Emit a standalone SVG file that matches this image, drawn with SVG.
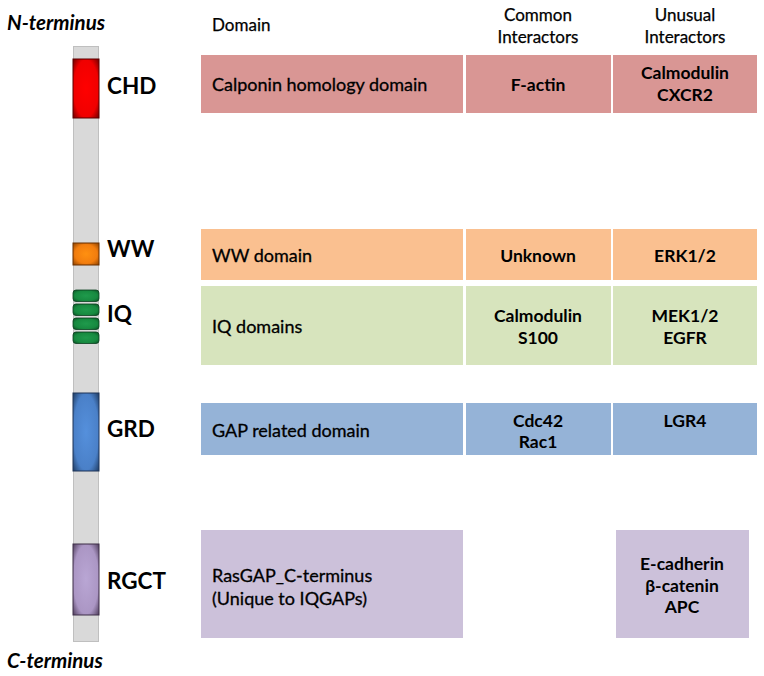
<svg xmlns="http://www.w3.org/2000/svg" width="764" height="676" viewBox="0 0 764 676">
<style>
text{font-family:Lato,"Open Sans","Liberation Sans",sans-serif;fill:#000}
.lbl{font-size:22.5px;font-weight:bold}
.term{font-size:20.5px;font-weight:bold;font-style:italic}
.hd{font-size:17px;stroke:#000;stroke-width:0.25}
.c1{font-size:18px;stroke:#000;stroke-width:0.3}
.cx{font-size:17.5px;font-weight:bold;text-anchor:middle}
.bar{fill:#d9d9d9;stroke:#bfbfbf;stroke-width:1}
</style>
<defs>
<radialGradient id="gRed" cx="0.5" cy="0.5" r="0.71"><stop offset="0" stop-color="#ff0000"/><stop offset="0.68" stop-color="#f00000"/><stop offset="1" stop-color="#6a0000"/></radialGradient>
<radialGradient id="gOr" cx="0.5" cy="0.5" r="0.71"><stop offset="0" stop-color="#ff9010"/><stop offset="0.6" stop-color="#f27d0e"/><stop offset="1" stop-color="#8a4000"/></radialGradient>
<radialGradient id="gGr" cx="0.5" cy="0.5" r="0.71"><stop offset="0" stop-color="#1f9a4c"/><stop offset="0.6" stop-color="#178a40"/><stop offset="1" stop-color="#0a4a22"/></radialGradient>
<radialGradient id="gBl" cx="0.5" cy="0.5" r="0.71"><stop offset="0" stop-color="#5590dc"/><stop offset="0.68" stop-color="#4a80c8"/><stop offset="1" stop-color="#1e3a60"/></radialGradient>
<radialGradient id="gPu" cx="0.5" cy="0.5" r="0.71"><stop offset="0" stop-color="#b9a6d4"/><stop offset="0.68" stop-color="#ab96c4"/><stop offset="1" stop-color="#4e3c5a"/></radialGradient>
</defs>
<rect width="764" height="676" fill="#fff"/>

<g id="protein">
<text class="term" x="7" y="30">N-terminus</text>
<rect class="bar" x="73.5" y="46.5" width="25" height="595"/>
<text class="term" x="7" y="668">C-terminus</text>
</g>

<g id="chd">
<rect x="73" y="59" width="26" height="59" fill="url(#gRed)" stroke="#5a0000" stroke-width="1"/>
<text class="lbl" x="107" y="94">CHD</text>
</g>
<g id="ww">
<rect x="73" y="243" width="26" height="22" fill="url(#gOr)" stroke="#6a3000" stroke-width="1"/>
<text class="lbl" x="107" y="257">WW</text>
</g>
<g id="iq">
<rect x="73" y="290" width="26" height="11.5" rx="3" fill="url(#gGr)" stroke="#0a4020" stroke-width="0.8"/>
<rect x="73" y="304" width="26" height="11.5" rx="3" fill="url(#gGr)" stroke="#0a4020" stroke-width="0.8"/>
<rect x="73" y="318" width="26" height="11.5" rx="3" fill="url(#gGr)" stroke="#0a4020" stroke-width="0.8"/>
<rect x="73" y="332" width="26" height="11.5" rx="3" fill="url(#gGr)" stroke="#0a4020" stroke-width="0.8"/>
<text class="lbl" x="107" y="322">IQ</text>
</g>
<g id="grd">
<rect x="73" y="393" width="26" height="78" fill="url(#gBl)" stroke="#1e3458" stroke-width="1"/>
<text class="lbl" x="107" y="437">GRD</text>
</g>
<g id="rgct">
<rect x="73" y="544" width="26" height="71" fill="url(#gPu)" stroke="#3e2e48" stroke-width="1"/>
<text class="lbl" x="107" y="589">RGCT</text>
</g>

<g id="header">
<text class="hd" x="212" y="31">Domain</text>
<text class="hd" x="538" y="21" text-anchor="middle">Common</text>
<text class="hd" x="538" y="43" text-anchor="middle">Interactors</text>
<text class="hd" x="685" y="21" text-anchor="middle">Unusual</text>
<text class="hd" x="685" y="43" text-anchor="middle">Interactors</text>
</g>

<g id="row-chd">
<rect x="201" y="55" width="262" height="58" fill="#d99694"/>
<rect x="466" y="55" width="145" height="58" fill="#d99694"/>
<rect x="613" y="55" width="144" height="58" fill="#d99694"/>
<text class="c1" x="212" y="91">Calponin homology domain</text>
<text class="cx" x="538" y="91">F-actin</text>
<text class="cx" x="685" y="79">Calmodulin</text>
<text class="cx" x="685" y="101">CXCR2</text>
</g>

<g id="row-ww">
<rect x="201" y="229" width="262" height="51" fill="#fac090"/>
<rect x="466" y="229" width="145" height="51" fill="#fac090"/>
<rect x="613" y="229" width="144" height="51" fill="#fac090"/>
<text class="c1" x="212" y="262">WW domain</text>
<text class="cx" x="538" y="262">Unknown</text>
<text class="cx" x="685" y="262">ERK1/2</text>
</g>

<g id="row-iq">
<rect x="201" y="286" width="262" height="79" fill="#d7e4bd"/>
<rect x="466" y="286" width="145" height="79" fill="#d7e4bd"/>
<rect x="613" y="286" width="144" height="79" fill="#d7e4bd"/>
<text class="c1" x="212" y="333">IQ domains</text>
<text class="cx" x="538" y="322">Calmodulin</text>
<text class="cx" x="538" y="344">S100</text>
<text class="cx" x="685" y="322">MEK1/2</text>
<text class="cx" x="685" y="344">EGFR</text>
</g>

<g id="row-grd">
<rect x="201" y="403" width="262" height="52" fill="#95b3d7"/>
<rect x="466" y="403" width="145" height="52" fill="#95b3d7"/>
<rect x="613" y="403" width="144" height="52" fill="#95b3d7"/>
<text class="c1" x="212" y="437">GAP related domain</text>
<text class="cx" x="538" y="427">Cdc42</text>
<text class="cx" x="538" y="448">Rac1</text>
<text class="cx" x="685" y="427">LGR4</text>
</g>

<g id="row-rgct">
<rect x="201" y="530" width="262" height="108" fill="#ccc1da"/>
<rect x="616" y="530" width="133" height="108" fill="#ccc1da"/>
<text class="c1" x="212" y="582">RasGAP_C-terminus</text>
<text class="c1" x="212" y="605">(Unique to IQGAPs)</text>
<text class="cx" x="682" y="570">E-cadherin</text>
<text class="cx" x="682" y="592">β-catenin</text>
<text class="cx" x="682" y="613">APC</text>
</g>

<g id="connectors"></g>
</svg>
